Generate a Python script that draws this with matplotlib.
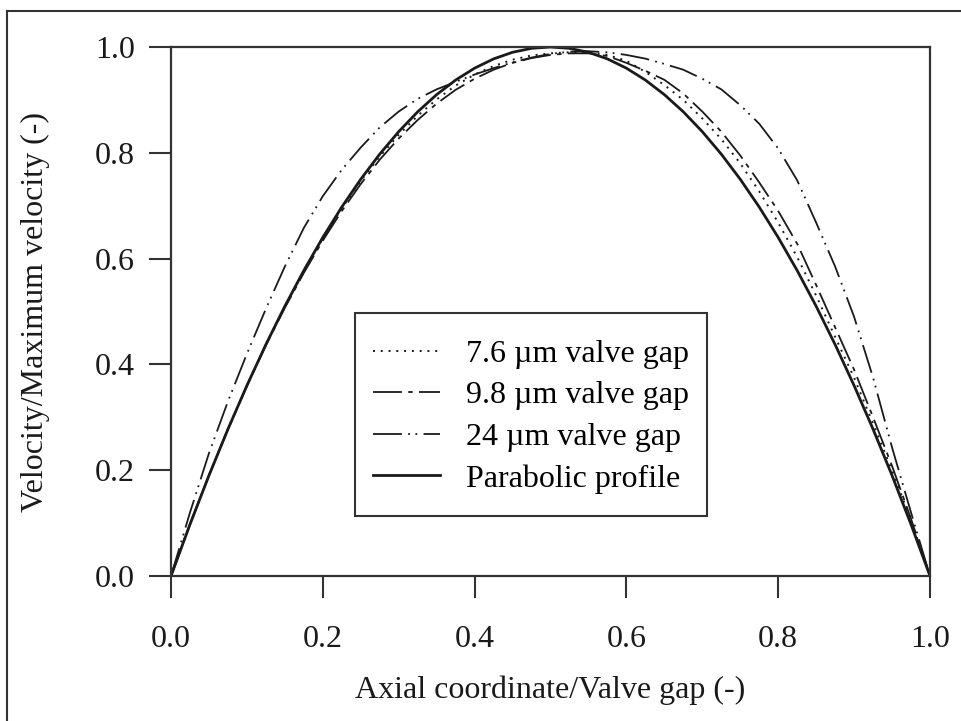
import matplotlib
matplotlib.use("Agg")
import matplotlib.pyplot as plt
from matplotlib.lines import Line2D
from matplotlib.patches import Rectangle

plt.rcParams['font.family'] = ['Liberation Serif', 'DejaVu Serif']

# Axial coordinate normalised by the valve gap
x_pos = [0.000, 0.025, 0.050, 0.075, 0.100, 0.125, 0.150, 0.175, 0.200, 0.225,
         0.250, 0.275, 0.300, 0.325, 0.350, 0.375, 0.400, 0.425, 0.450, 0.475,
         0.500, 0.525, 0.550, 0.575, 0.600, 0.625, 0.650, 0.675, 0.700, 0.725,
         0.750, 0.775, 0.800, 0.825, 0.850, 0.875, 0.900, 0.925, 0.950, 0.975, 1.000]

# Normalised velocity profiles (velocity / maximum velocity)
gap_7_6 = [0.000, 0.098, 0.190, 0.278, 0.360, 0.437, 0.509, 0.576, 0.638, 0.695,
           0.747, 0.793, 0.834, 0.870, 0.901, 0.927, 0.948, 0.964, 0.976, 0.984,
           0.988, 0.990, 0.990, 0.985, 0.974, 0.953, 0.928, 0.900, 0.865, 0.826,
           0.780, 0.727, 0.668, 0.603, 0.530, 0.452, 0.375, 0.288, 0.200, 0.105, 0.000]
gap_9_8 = [0.000, 0.098, 0.190, 0.277, 0.359, 0.436, 0.507, 0.573, 0.634, 0.690,
           0.741, 0.787, 0.827, 0.862, 0.893, 0.919, 0.940, 0.957, 0.970, 0.979,
           0.985, 0.988, 0.988, 0.983, 0.970, 0.955, 0.938, 0.912, 0.878, 0.840,
           0.795, 0.744, 0.690, 0.628, 0.550, 0.470, 0.390, 0.300, 0.208, 0.108, 0.000]
gap_24 = [0.000, 0.120, 0.232, 0.330, 0.420, 0.505, 0.585, 0.658, 0.718, 0.768,
          0.810, 0.848, 0.878, 0.902, 0.920, 0.934, 0.948, 0.960, 0.971, 0.980,
          0.987, 0.991, 0.992, 0.990, 0.985, 0.978, 0.968, 0.957, 0.940, 0.920,
          0.890, 0.855, 0.808, 0.748, 0.668, 0.585, 0.490, 0.375, 0.243, 0.120, 0.000]
parabolic = [0.000, 0.0975, 0.190, 0.2775, 0.360, 0.4375, 0.510, 0.5775, 0.640, 0.6975,
             0.750, 0.7975, 0.840, 0.8775, 0.910, 0.9375, 0.960, 0.9775, 0.990, 0.9975,
             1.000, 0.9975, 0.990, 0.9775, 0.960, 0.9375, 0.910, 0.8775, 0.840, 0.7975,
             0.750, 0.6975, 0.640, 0.5775, 0.510, 0.4375, 0.360, 0.2775, 0.190, 0.0975, 0.000]

labels = ["7.6 µm valve gap", "9.8 µm valve gap", "24 µm valve gap", "Parabolic profile"]
x_ticks = [0.0, 0.2, 0.4, 0.6, 0.8, 1.0]
y_ticks = [0.0, 0.2, 0.4, 0.6, 0.8, 1.0]

ink = "#1a1a1a"
frame = "#333333"
fs = 23

fig = plt.figure(figsize=(9.61, 7.21), dpi=100)
ax = fig.add_axes([171 / 961, 1 - 576 / 721, 759 / 961, 529 / 721])

ax.plot(x_pos, gap_7_6, color=ink, lw=1.4, linestyle=(0, (1, 3)), label=labels[0])
ax.plot(x_pos, gap_9_8, color=ink, lw=1.3, linestyle=(0, (16, 3.5, 2.5, 3.5)), label=labels[1])
ax.plot(x_pos, gap_24, color=ink, lw=1.3, linestyle=(0, (16, 3.5, 1, 3, 1, 3.5)), label=labels[2])
ax.plot(x_pos, parabolic, color=ink, lw=2.0, linestyle='-', label=labels[3])

ax.set_xlim(0, 1)
ax.set_ylim(0, 1)
ax.set_xticks(x_ticks)
ax.set_yticks(y_ticks)
ax.set_xticklabels([f"{t:.1f}" for t in x_ticks])
ax.set_yticklabels([f"{t:.1f}" for t in y_ticks])
ax.tick_params(direction='out', length=16, width=1.5, color=frame,
               labelsize=fs, labelcolor=ink)
ax.tick_params(axis='y', pad=10)
ax.tick_params(axis='x', pad=19)
for side in ax.spines.values():
    side.set_linewidth(1.6)
    side.set_color(frame)

ax.set_xlabel("Axial coordinate/Valve gap (-)", fontsize=fs, color=ink, labelpad=16)
ax.set_ylabel("Velocity/Maximum velocity (-)", fontsize=fs, color=ink, labelpad=32)

# Legend box drawn as a plain rectangle, entries placed inside it
box_x0, box_x1 = (355 - 171) / 759, (707 - 171) / 759
box_y0, box_y1 = (576 - 516) / 529, (576 - 313) / 529
ax.add_patch(Rectangle((box_x0, box_y0), box_x1 - box_x0, box_y1 - box_y0,
                       transform=ax.transAxes, facecolor='white', edgecolor=frame,
                       lw=1.5, zorder=4))
leg = ax.legend(loc='center left', bbox_to_anchor=((373 - 171) / 759, (576 - 416.5) / 529),
                fontsize=fs, frameon=False, handlelength=2.1, handletextpad=0.8,
                borderpad=0, labelspacing=0.38, borderaxespad=0)
leg.set_zorder(5)

# Outer border lines of the figure panel
fig.add_artist(Line2D([7 / 961, 7 / 961], [0, 1 - 11 / 721], transform=fig.transFigure,
                      color=frame, lw=1.5))
fig.add_artist(Line2D([7 / 961, 1], [1 - 11 / 721, 1 - 11 / 721], transform=fig.transFigure,
                      color=frame, lw=1.5))

fig.savefig("out.png", dpi=100)
